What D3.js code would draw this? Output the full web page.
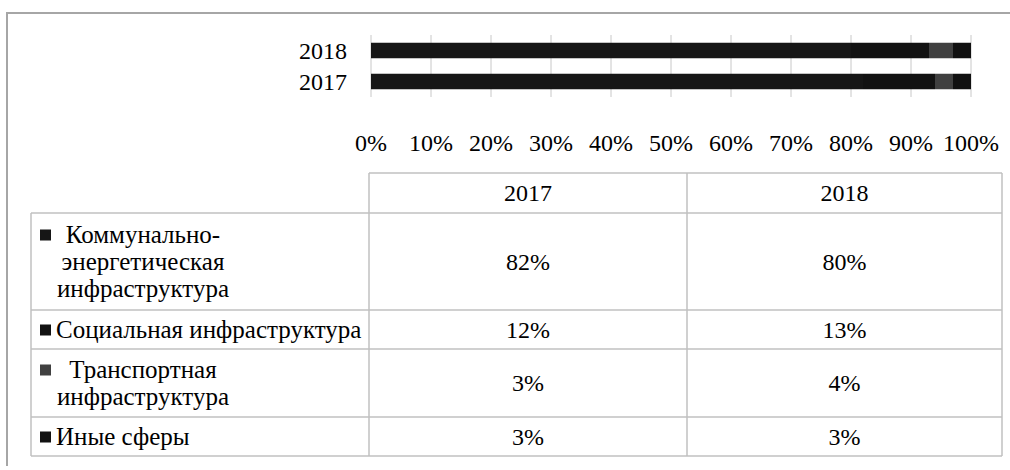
<!DOCTYPE html>
<html>
<head>
<meta charset="utf-8">
<script src="https://cdn.jsdelivr.net/npm/d3@7"></script>
<style>
  body { margin: 0; background: #fff; }
</style>
</head>
<body>
<svg width="1010" height="470"></svg>
<script>
  const years = ["2017", "2018"];
  const barOrder = ["2018", "2017"];
  const categories = [
    ["Коммунально-", "энергетическая", "инфраструктура"],
    ["Социальная инфраструктура"],
    ["Транспортная", "инфраструктура"],
    ["Иные сферы"]
  ];
  const values2017 = [82, 12, 3, 3];
  const values2018 = [80, 13, 4, 3];
  const ticks = [0, 10, 20, 30, 40, 50, 60, 70, 80, 90, 100];
  const colors = ["#161616", "#121212", "#404040", "#111111"];

  const svg = d3.select("svg")
    .attr("font-family", "'Liberation Serif', 'Times New Roman', serif");
  const fs = 24;   // цифры
  const fsL = 25;  // подписи категорий

  // рамка
  svg.append("path")
    .attr("d", "M7,466 V13 H1010")
    .attr("fill", "none")
    .attr("stroke", "#a6a6a6")
    .attr("stroke-width", 2);

  // шкалы
  const x = d3.scaleLinear().domain([0, 100]).range([371, 971]);
  const y = d3.scaleBand().domain(barOrder).range([35, 97]).paddingInner(0.5).paddingOuter(0.25);

  // сетка
  svg.selectAll("line.grid")
    .data(ticks)
    .enter()
    .append("line")
    .attr("class", "grid")
    .attr("x1", d => x(d)).attr("x2", d => x(d))
    .attr("y1", 35).attr("y2", 97)
    .attr("stroke", "#c8c8c8")
    .attr("stroke-width", 1);

  // сегменты
  const byYear = { "2017": values2017, "2018": values2018 };
  barOrder.forEach(yr => {
    const vals = byYear[yr];
    let acc = 0;
    const segs = vals.map((v, i) => { const s = { x0: acc, x1: acc + v, i }; acc += v; return s; });
    svg.selectAll("rect.b" + yr)
      .data(segs)
      .enter()
      .append("rect")
      .attr("x", d => x(d.x0))
      .attr("width", d => x(d.x1) - x(d.x0))
      .attr("y", y(yr))
      .attr("height", y.bandwidth())
      .attr("fill", d => colors[d.i]);
  });

  // подписи лет
  svg.selectAll("text.yr")
    .data(barOrder)
    .enter()
    .append("text")
    .attr("x", 347)
    .attr("y", d => y(d) + y.bandwidth() / 2)
    .attr("dy", "0.35em")
    .attr("text-anchor", "end")
    .attr("font-size", fs)
    .text(d => d);

  // подписи оси
  svg.selectAll("text.tick")
    .data(ticks)
    .enter()
    .append("text")
    .attr("x", d => x(d))
    .attr("y", 143)
    .attr("dy", "0.35em")
    .attr("text-anchor", "middle")
    .attr("font-size", fs)
    .text(d => d + "%");

  // таблица
  const colX = [31, 369, 687, 1002];
  const lineH = 27;
  const headTop = 173, headBottom = 213;
  const rowH = categories.map(c => c.length * 29 + 10);
  const rowTop = [];
  let yy = headBottom;
  rowH.forEach(h => { rowTop.push(yy); yy += h; });
  const tableBottom = yy;
  const grid = "#c0c0c0";

  const tbl = svg.append("g");
  tbl.append("line").attr("x1", colX[1]).attr("x2", colX[3]).attr("y1", headTop).attr("y2", headTop);
  [headBottom, ...rowTop.slice(1), tableBottom].forEach(v => {
    tbl.append("line").attr("x1", colX[0]).attr("x2", colX[3]).attr("y1", v).attr("y2", v);
  });
  tbl.append("line").attr("x1", colX[0]).attr("x2", colX[0]).attr("y1", headBottom).attr("y2", tableBottom);
  colX.slice(1).forEach(v => {
    tbl.append("line").attr("x1", v).attr("x2", v).attr("y1", headTop).attr("y2", tableBottom);
  });
  tbl.selectAll("line").attr("stroke", grid).attr("stroke-width", 1.5);

  // заголовки
  years.forEach((yr, j) => {
    svg.append("text")
      .attr("x", (colX[j + 1] + colX[j + 2]) / 2)
      .attr("y", (headTop + headBottom) / 2)
      .attr("dy", "0.35em")
      .attr("text-anchor", "middle")
      .attr("font-size", fs)
      .text(yr);
  });

  // строки
  categories.forEach((lines, i) => {
    const top = rowTop[i], h = rowH[i];
    const cy = top + h / 2;
    const firstY = cy - (lines.length - 1) * lineH / 2;
    svg.append("rect")
      .attr("x", 40).attr("y", firstY - 5)
      .attr("width", 11).attr("height", 11)
      .attr("fill", colors[i]);
    lines.forEach((ln, k) => {
      svg.append("text")
        .attr("x", lines.length > 1 ? 143 : 56)
        .attr("y", firstY + k * lineH)
        .attr("dy", "0.35em")
        .attr("text-anchor", lines.length > 1 ? "middle" : "start")
        .attr("font-size", fsL)
        .text(ln);
    });
    [values2017[i], values2018[i]].forEach((v, j) => {
      svg.append("text")
        .attr("x", (colX[j + 1] + colX[j + 2]) / 2)
        .attr("y", cy)
        .attr("dy", "0.35em")
        .attr("text-anchor", "middle")
        .attr("font-size", fs)
        .text(v + "%");
    });
  });
</script>
</body>
</html>
